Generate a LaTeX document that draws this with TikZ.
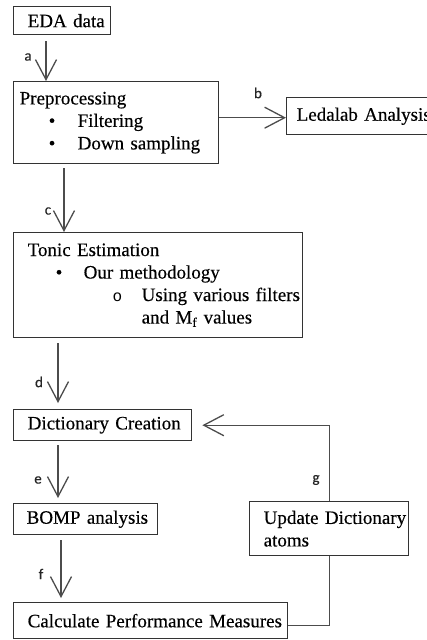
\documentclass[tikz,border=0pt]{standalone}
\usepackage{fontspec}
\setmainfont{Liberation Serif}[UprightFeatures={FakeBold=0.3}]
\newfontfamily\lblfont{Carlito}[UprightFeatures={FakeBold=0.4}]
\newfontfamily\circfont{Liberation Mono}
\usetikzlibrary{arrows.meta}
\tikzset{
  box/.style={draw=black!80, line width=1.4pt, rectangle, anchor=north west, align=left,
    inner xsep=0pt, inner ysep=0pt, font=\fontsize{19}{22.5}\selectfont},
  arr/.style={draw=black!70, line width=1.3pt, -{Straight Barb[length=20pt,width=21pt,line width=1.3pt]}},
  conn/.style={draw=black!70, line width=1.3pt},
  lbl/.style={font=\lblfont\fontsize{15}{16}\selectfont, inner sep=0pt, text=black!85}
}
\newcommand{\ind}[1]{\hspace*{#1pt}}
\newcommand{\bulA}[3]{\\\hspace*{#1pt}\makebox[#2pt][l]{\textbullet}#3}
\begin{document}
\begin{tikzpicture}[x=1pt,y=-1pt]
\useasboundingbox (0,0) rectangle (427,640);
% boxes
\node[box, minimum width=97pt, minimum height=28pt, text width=97pt] (eda) at (13,6) {\ind{14}EDA data};
\node[box, minimum width=205pt, minimum height=82pt, text width=205pt] (pre) at (13,81)
  {\ind{6}Preprocessing\bulA{35}{29}{Filtering}\bulA{35}{29}{Down sampling}\\[10pt]};
\node[box, minimum width=150pt, minimum height=37pt, text width=150pt] (led) at (286,97) {\ind{10}Ledalab Analysis};
\node[box, minimum width=289pt, minimum height=105pt, text width=289pt] (tonic) at (13,232)
  {\ind{14}Tonic Estimation\bulA{42}{28}{Our methodology}\\\ind{99}\makebox[29pt][l]{\circfont\fontsize{16}{16}\selectfont o}Using various filters\\\ind{128}and M\textsubscript{f} values};
\node[box, minimum width=178pt, minimum height=31pt, text width=178pt] (dict) at (13,409) {\ind{14}Dictionary Creation};
\node[box, minimum width=144pt, minimum height=31pt, text width=144pt] (bomp) at (13,503) {\ind{13}BOMP analysis};
\node[box, minimum width=274pt, minimum height=36pt, text width=274pt] (calc) at (13,602) {\ind{14}Calculate Performance Measures};
\node[box, minimum width=159pt, minimum height=54pt, text width=159pt] (upd) at (249,501) {\ind{14}Update Dictionary\\\ind{14}atoms};
% connectors
\draw[arr, shorten <=6pt] ([xshift=33pt]eda.south west) -- ([xshift=33pt]pre.north west);
\draw[arr] ([yshift=5pt]pre.east) coordinate (bs) -- (bs -| led.west);
\draw[arr, shorten <=4pt] ([xshift=51pt]pre.south west) -- ([xshift=51pt]tonic.north west);
\draw[arr, shorten <=5pt, shorten >=6pt] ([xshift=45pt]tonic.south west) -- ([xshift=45pt]dict.north west);
\draw[arr, shorten <=4pt, shorten >=5pt] ([xshift=45pt]dict.south west) -- ([xshift=45pt]bomp.north west);
\draw[arr, shorten <=5pt, shorten >=4pt] ([xshift=48pt]bomp.south west) -- ([xshift=48pt]calc.north west);
\draw[conn] ([yshift=-5pt]calc.east) -| (upd.south);
\draw[arr, shorten >=10pt] (upd.north) |- (dict.east);
% labels
\node[lbl] (la) at (28,57) {a};
\node[lbl] (lb) at (258,93) {b};
\node[lbl] (lc) at (48,211) {c};
\node[lbl] (ld) at (39,382) {d};
\node[lbl] (le) at (38,480) {e};
\node[lbl] (lf) at (41,574) {f};
\node[lbl] (lg) at (316,480) {g};
\end{tikzpicture}
\end{document}
